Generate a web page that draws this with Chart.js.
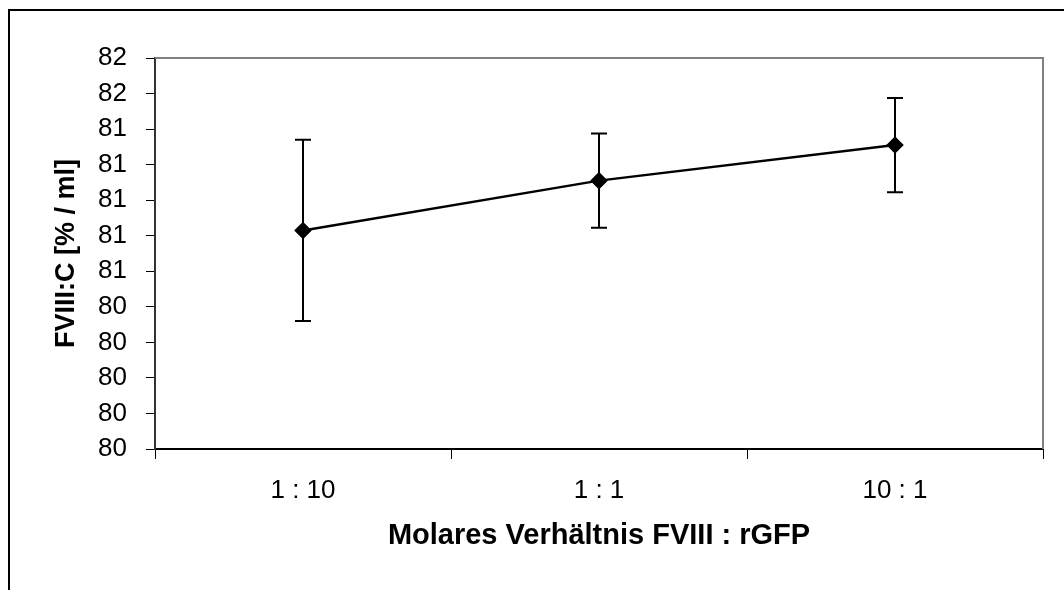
<!DOCTYPE html>
<html>
<head>
<meta charset="utf-8">
<script src="https://cdn.jsdelivr.net/npm/chart.js@4/dist/chart.umd.min.js"></script>
<style>
  html, body { margin: 0; padding: 0; background: #fff; }
  #wrap { width: 1064px; height: 590px; }
</style>
</head>
<body>
<div id="wrap"><canvas id="fviiiChart" width="1064" height="590"></canvas></div>
<script>
// data
const ratios = ['1 : 10', '1 : 1', '10 : 1'];
const fviiiMean = [80.83, 81.11, 81.31];
const fviiiErr = [0.51, 0.265, 0.265];
const yMin = 79.6, yMax = 81.8, yStep = 0.2;

// outer frame + grey plot border
const framePlugin = {
  id: 'frame',
  beforeDraw(chart) {
    const c = chart.ctx;
    c.save();
    c.fillStyle = '#fff';
    c.fillRect(0, 0, chart.width, chart.height);
    c.strokeStyle = '#000';
    c.lineWidth = 2;
    c.strokeRect(9, 10, chart.width + 20, chart.height + 20);
    c.restore();
  },
  afterDraw(chart) {
    const a = chart.chartArea, c = chart.ctx;
    c.save();
    c.strokeStyle = '#808080';
    c.lineWidth = 2;
    c.beginPath();
    c.moveTo(a.left, a.top);
    c.lineTo(a.right, a.top);
    c.lineTo(a.right, a.bottom);
    c.stroke();
    c.restore();
  }
};

// vertical error bars with caps
const errorBarPlugin = {
  id: 'errorBars',
  beforeDatasetsDraw(chart) {
    const c = chart.ctx;
    const x = chart.scales.x, y = chart.scales.y;
    c.save();
    c.strokeStyle = '#000';
    c.lineWidth = 2;
    fviiiMean.forEach((m, i) => {
      const px = x.getPixelForValue(i);
      const top = y.getPixelForValue(m + fviiiErr[i]);
      const bot = y.getPixelForValue(m - fviiiErr[i]);
      c.beginPath();
      c.moveTo(px, top); c.lineTo(px, bot);
      c.moveTo(px - 8, top); c.lineTo(px + 8, top);
      c.moveTo(px - 8, bot); c.lineTo(px + 8, bot);
      c.stroke();
    });
    c.restore();
  }
};

const tickFont = { family: 'Liberation Sans, Arial, sans-serif', size: 26 };
const yTitleFont = { family: 'Liberation Sans, Arial, sans-serif', size: 27, weight: 'bold' };
const xTitleFont = { family: 'Liberation Sans, Arial, sans-serif', size: 29, weight: 'bold' };

new Chart(document.getElementById('fviiiChart'), {
  type: 'line',
  data: {
    labels: ratios,
    datasets: [{
      data: fviiiMean,
      borderColor: '#000',
      borderWidth: 2.5,
      backgroundColor: '#000',
      pointStyle: 'rectRot',
      pointRadius: 7,
      pointHoverRadius: 7,
      tension: 0
    }]
  },
  options: {
    responsive: false,
    animation: false,
    layout: { padding: { top: 58, right: 21, left: 0, bottom: 0 } },
    plugins: { legend: { display: false }, tooltip: { enabled: false } },
    scales: {
      x: {
        type: 'category',
        offset: true,
        grid: { offset: true, drawOnChartArea: false, tickLength: 10, color: '#000', lineWidth: 1 },
        border: { color: '#000', width: 2 },
        ticks: { color: '#000', font: tickFont, padding: 16, maxRotation: 0 },
        title: { display: true, text: 'Molares Verhältnis FVIII : rGFP', color: '#000', font: xTitleFont, padding: { top: 0, bottom: 37 } },
        afterFit(s) { s.height = 141; }
      },
      y: {
        min: yMin,
        max: yMax,
        grid: { drawOnChartArea: false, tickLength: 9, color: '#000', lineWidth: 1 },
        border: { color: '#333', width: 2 },
        ticks: {
          stepSize: yStep,
          autoSkip: false,
          color: '#000',
          font: tickFont,
          padding: 19,
          callback: v => Math.round(v).toString()
        },
        title: { display: true, text: 'FVIII:C [% / ml]', color: '#000', font: yTitleFont, padding: { top: 50, bottom: 0 } },
        afterFit(s) { s.width = 155; }
      }
    }
  },
  plugins: [framePlugin, errorBarPlugin]
});
</script>
</body>
</html>
